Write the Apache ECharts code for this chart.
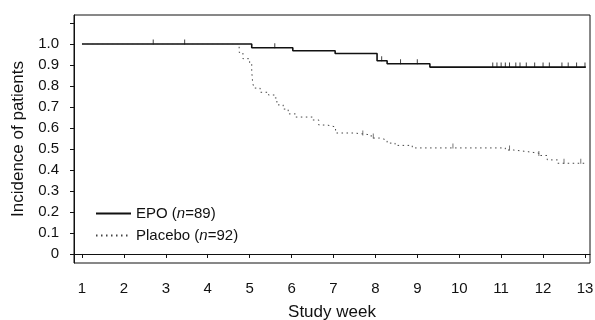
<!DOCTYPE html>
<html>
<head>
<meta charset="utf-8">
<script src="https://cdn.jsdelivr.net/npm/echarts@6/dist/echarts.min.js"></script>
<style>
  html, body { margin: 0; padding: 0; background: #fff; }
  #chart { width: 595px; height: 320px; }
</style>
</head>
<body>
<div id="chart"></div>
<script>
// tick values
const weekTicks = [1, 2, 3, 4, 5, 6, 7, 8, 9, 10, 11, 12, 13];
const yTicks = [0, 0.1, 0.2, 0.3, 0.4, 0.5, 0.6, 0.7, 0.8, 0.9, 1.0, 1.1];
const yLabels = [0, 0.1, 0.2, 0.3, 0.4, 0.5, 0.6, 0.7, 0.8, 0.9, 1.0];

const groupNames = ["EPO", "Placebo"];
const groupN = [89, 92];

// Kaplan-Meier steps (week, proportion)
const epoWeeks = [1, 5.05, 6.03, 7.04, 8.04, 8.28, 9.3, 13.02];
const epoSurv  = [1.0, 0.982, 0.968, 0.955, 0.92, 0.906, 0.89, 0.89];

const placeboWeeks = [1, 4.75, 4.84, 5.0, 5.05, 5.07, 5.1, 5.25, 5.45, 5.6, 5.65, 5.8, 5.92,
  6.1, 6.5, 6.65, 6.85, 7.05, 7.5, 7.9, 8.1, 8.28, 8.47, 8.88, 11.1, 11.3, 11.6, 11.9, 12.1, 12.35, 13.0];
const placeboSurv  = [1.0, 0.96, 0.93, 0.91, 0.87, 0.82, 0.79, 0.77, 0.757, 0.743, 0.71, 0.69, 0.667,
  0.652, 0.638, 0.614, 0.605, 0.576, 0.567, 0.552, 0.543, 0.528, 0.517, 0.505, 0.495, 0.488, 0.48, 0.469, 0.448, 0.432, 0.432];

// censoring marks
const epoCensorWeeks = [2.7, 3.45, 5.6, 8.15, 8.6, 9.0, 10.8, 10.9, 11.0, 11.1, 11.2, 11.35, 11.45,
  11.6, 11.8, 12.0, 12.15, 12.45, 12.6, 12.8, 13.0];
const epoCensorSurv = [1.0, 1.0, 0.982, 0.92, 0.906, 0.906, 0.89, 0.89, 0.89, 0.89, 0.89, 0.89, 0.89,
  0.89, 0.89, 0.89, 0.89, 0.89, 0.89, 0.89, 0.89];
const placeboCensorWeeks = [7.7, 7.95, 9.85, 11.2, 11.9, 12.5, 12.9];
const placeboCensorSurv  = [0.567, 0.552, 0.505, 0.495, 0.469, 0.432, 0.432];

const font = '"Liberation Sans", Arial, Helvetica, sans-serif';
const pairs = (xs, ys) => xs.map((x, i) => [x, ys[i]]);

const chart = echarts.init(document.getElementById("chart"));

chart.setOption({
  animation: false,
  grid: {
    left: 74, right: 5, top: 15, bottom: 57,
    outerBoundsMode: "none",
    show: true, borderColor: "#111", borderWidth: 1
  },
  legend: {
    data: groupNames,
    orient: "vertical",
    left: 95,
    top: 206,
    padding: 0,
    itemWidth: 35,
    itemHeight: 14,
    itemGap: 7,
    // line only, no symbol in the key
    itemStyle: { color: "transparent", borderWidth: 0, opacity: 0 },
    formatter: name => {
      const n = groupN[groupNames.indexOf(name)];
      return `{t|${name} (}{i|n}{t|=${n})}`;
    },
    textStyle: {
      rich: {
        t: { fontFamily: font, fontSize: 15, color: "#111" },
        i: { fontFamily: font, fontSize: 15, fontStyle: "italic", color: "#111" }
      }
    }
  },
  xAxis: {
    type: "value",
    min: 0.81,
    max: 13.12,
    name: "Study week",
    nameLocation: "middle",
    nameGap: 41,
    nameTextStyle: { fontFamily: font, fontSize: 17, color: "#111" },
    axisLine: { show: true, lineStyle: { color: "#111" } },
    axisTick: { show: true, length: 4, customValues: weekTicks, lineStyle: { color: "#111" } },
    axisLabel: {
      customValues: weekTicks, margin: 18,
      fontFamily: font, fontSize: 15, color: "#111"
    },
    splitLine: { show: false }
  },
  yAxis: {
    type: "value",
    min: -0.043,
    max: 1.138,
    name: "Incidence of patients",
    nameLocation: "middle",
    nameGap: 45,
    nameTextStyle: { fontFamily: font, fontSize: 17, color: "#111" },
    axisLine: { show: true, lineStyle: { color: "#111" } },
    axisTick: { show: true, length: 4, customValues: yTicks, lineStyle: { color: "#111" } },
    axisLabel: {
      customValues: yLabels, margin: 15,
      fontFamily: font, fontSize: 15, color: "#111",
      formatter: v => (v === 0 ? "0" : v.toFixed(1))
    },
    splitLine: { show: false }
  },
  series: [
    {
      name: "EPO",
      type: "line",
      step: "end",
      symbol: "none",
      data: pairs(epoWeeks, epoSurv),
      lineStyle: { color: "#111", width: 1.6 },
      itemStyle: { color: "#111" }
    },
    {
      name: "Placebo",
      type: "line",
      step: "end",
      symbol: "none",
      data: pairs(placeboWeeks, placeboSurv),
      lineStyle: { color: "#444", width: 1, type: [1.5, 3.5] },
      itemStyle: { color: "#444" }
    },
    {
      name: "EPO censored",
      type: "scatter",
      symbol: "rect",
      symbolSize: [1, 5],
      symbolOffset: [0, -2],
      data: pairs(epoCensorWeeks, epoCensorSurv),
      itemStyle: { color: "#111" }
    },
    {
      name: "Placebo censored",
      type: "scatter",
      symbol: "rect",
      symbolSize: [1, 5],
      symbolOffset: [0, -2],
      data: pairs(placeboCensorWeeks, placeboCensorSurv),
      itemStyle: { color: "#555" }
    }
  ]
});
</script>
</body>
</html>
